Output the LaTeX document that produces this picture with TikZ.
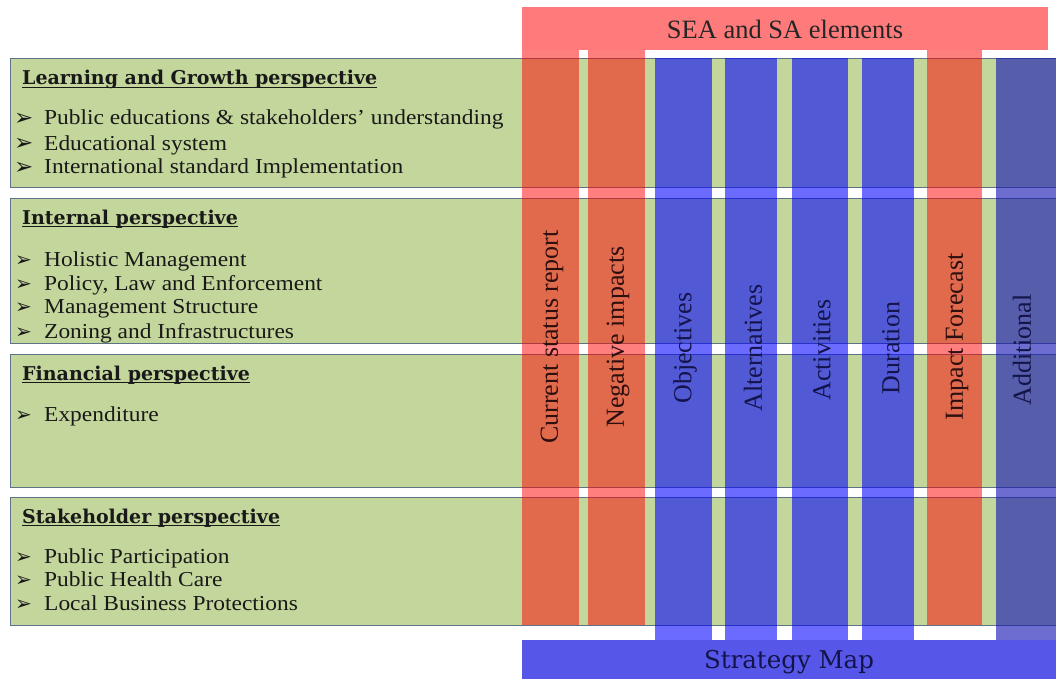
\documentclass[tikz,border=0pt]{standalone}
\usepackage{fontspec}
\setmainfont{Liberation Serif}
\newfontfamily\dejavu{DejaVu Sans}
\newfontfamily\cambriaish{DejaVu Serif}
\newfontfamily\itemfont[FakeStretch=1.1]{Liberation Serif}
\newcommand\myul[1]{\setbox0\hbox{#1}\rlap{\rule[-3pt]{\wd0}{1.2pt}}\box0}
\definecolor{rowgreen}{RGB}{195,214,155}
\definecolor{rowline}{RGB}{95,115,135}
\definecolor{hdrpink}{RGB}{255,122,122}
\definecolor{smblue}{RGB}{86,86,232}
\definecolor{colred}{RGB}{255,0,0}
\definecolor{colblue}{RGB}{0,0,255}
\definecolor{coladd}{RGB}{20,20,180}
\definecolor{txtdark}{RGB}{25,25,25}
\definecolor{navy}{RGB}{20,20,75}
\definecolor{redtxt}{RGB}{45,15,15}
\tikzset{
  rowbox/.style={draw=rowline, fill=rowgreen, line width=0.9pt},
  redcol/.style={fill=colred, fill opacity=0.5},
  bluecol/.style={fill=colblue, fill opacity=0.58},
  addcol/.style={fill=coladd, fill opacity=0.62},
  head/.style={anchor=base west, inner sep=0pt, text=txtdark, font=\cambriaish\fontsize{19}{22}\selectfont\bfseries},
  item/.style={anchor=base west, inner sep=0pt, text=txtdark, font=\itemfont\fontsize{21.3}{24}\selectfont},
  bul/.style={anchor=base west, inner sep=0pt, text=txtdark, font=\dejavu\fontsize{23}{26}\selectfont},
  bulsm/.style={anchor=base west, inner sep=0pt, text=txtdark, font=\dejavu\fontsize{20}{24}\selectfont},
  collabel/.style={rotate=90, inner sep=0pt, font=\fontsize{26}{30}\selectfont},
}
\begin{document}
\begin{tikzpicture}[x=1pt,y=-1pt]
\useasboundingbox (0,0) rectangle (1056,679);
\clip (0,0) rectangle (1056,679);
\fill[white] (0,0) rectangle (1056,679);
% header
\fill[hdrpink] (522,7) rectangle (1048,50);
\node[font=\fontsize{26.5}{30}\selectfont, text=black!85] (sea) at (785,29) {SEA and SA elements};
% strategy map
\fill[smblue] (522,640) rectangle (1060,685);
\node[anchor=base, inner sep=0pt, font=\cambriaish\fontsize{24.5}{28}\selectfont, text=navy] (smap) at (789,668) {Strategy Map};
% rows
\draw[rowbox] (10,58) rectangle (1070,187);
\draw[rowbox] (10,198) rectangle (1070,343);
\draw[rowbox] (10,354) rectangle (1070,487);
\draw[rowbox] (10,497) rectangle (1070,625);
% row 1
\node[head] (h1) at (22,85) {\myul{Learning and Growth perspective}};
\node[bul] (b11) at (14,126) {➢};
\node[item] (i11) at (44,125) {Public educations \& stakeholders’ understanding};
\node[bul] (b12) at (14,151) {➢};
\node[item] (i12) at (44,150) {Educational system};
\node[bul] (b13) at (14,175) {➢};
\node[item] (i13) at (44,174) {International standard Implementation};
% row 2
\begin{scope}
\clip (10,198) rectangle (1056,342.5);
\node[head] (h2) at (22,224) {\myul{Internal perspective}};
\node[bulsm] (b21) at (15,266) {➢};
\node[item] (i21) at (44,266) {Holistic Management};
\node[bulsm] (b22) at (15,290) {➢};
\node[item] (i22) at (44,290) {Policy, Law and Enforcement};
\node[bulsm] (b23) at (15,313) {➢};
\node[item] (i23) at (44,313) {Management Structure};
\node[bulsm] (b24) at (15,338) {➢};
\node[item] (i24) at (44,338) {Zoning and Infrastructures};
\end{scope}
% row 3
\node[head] (h3) at (22,380) {\myul{Financial perspective}};
\node[bulsm] (b31) at (15,421) {➢};
\node[item] (i31) at (44,421) {Expenditure};
% row 4
\node[head] (h4) at (22,523) {\myul{Stakeholder perspective}};
\node[bulsm] (b41) at (15,563) {➢};
\node[item] (i41) at (44,563) {Public Participation};
\node[bulsm] (b42) at (15,586) {➢};
\node[item] (i42) at (44,586) {Public Health Care};
\node[bulsm] (b43) at (15,610) {➢};
\node[item] (i43) at (44,610) {Local Business Protections};
% columns
\fill[redcol] (522,50) rectangle (579,625);
\fill[redcol] (588,50) rectangle (645,625);
\fill[bluecol] (655,58) rectangle (712,640);
\fill[bluecol] (725,58) rectangle (777,640);
\fill[bluecol] (792,58) rectangle (848,640);
\fill[bluecol] (862,58) rectangle (914,640);
\fill[redcol] (927,50) rectangle (982,625);
\fill[addcol] (996,58) rectangle (1060,640);
% column labels
\node[collabel, text=redtxt] (c1) at (552,337) {Current status report};
\node[collabel, text=redtxt] (c2) at (618,337) {Negative impacts};
\node[collabel, text=navy] (c3) at (685,348) {Objectives};
\node[collabel, text=navy] (c4) at (753,348) {Alternatives};
\node[collabel, text=navy] (c5) at (822,350) {Activities};
\node[collabel, text=navy] (c6) at (891,348) {Duration};
\node[collabel, text=redtxt] (c7) at (957,337) {Impact Forecast};
\node[collabel, text=navy] (c8) at (1022,350) {Additional};
\end{tikzpicture}
\end{document}
